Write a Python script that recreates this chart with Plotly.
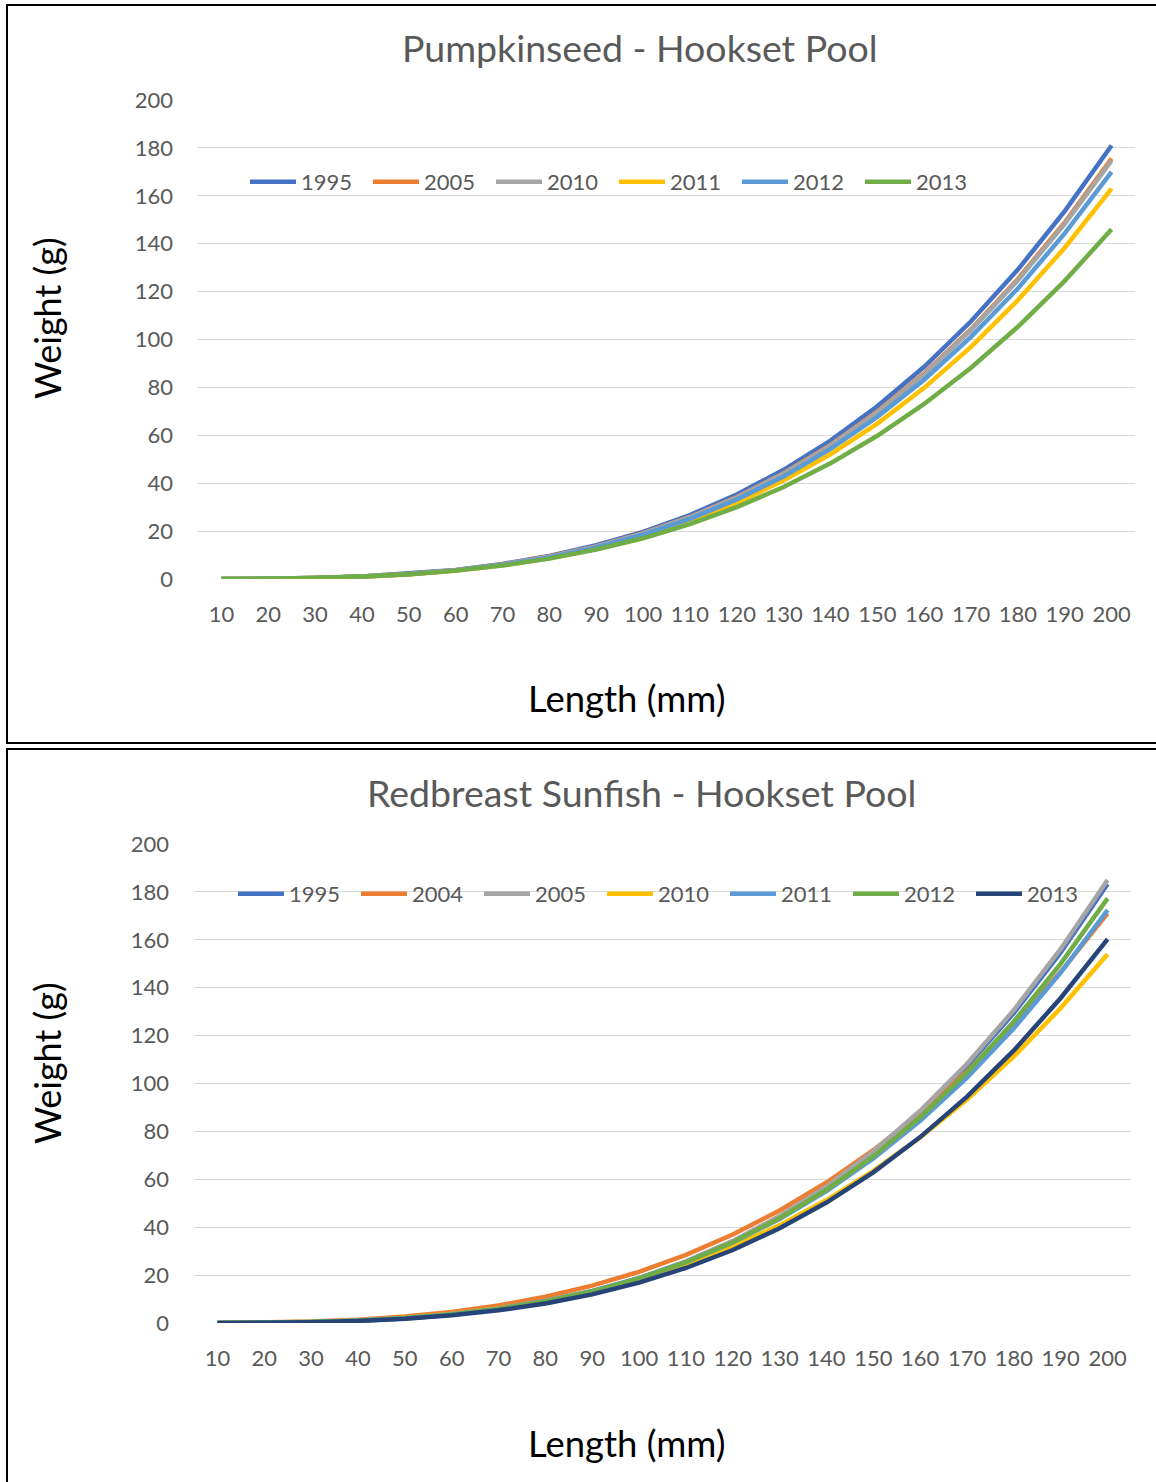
import plotly.graph_objects as go

W, H = 1156, 1482

# Fish length classes (mm)
lengths = [10, 20, 30, 40, 50, 60, 70, 80, 90, 100,
           110, 120, 130, 140, 150, 160, 170, 180, 190, 200]

# Pumpkinseed - predicted weight (g) by year
pk_years = ["1995", "2005", "2010", "2011", "2012", "2013"]
pk_1995 = [0.01, 0.1, 0.4, 1.0, 2.2, 3.8, 6.3, 9.6, 14.1, 19.7, 26.7, 35.3, 45.6, 57.8, 72.1, 88.6, 107.6, 129.2, 153.6, 181.0]
pk_2005 = [0.01, 0.1, 0.4, 1.0, 2.1, 3.7, 6.1, 9.4, 13.6, 19.1, 25.9, 34.2, 44.2, 56.0, 69.9, 85.9, 104.3, 125.3, 148.9, 175.5]
pk_2010 = [0.01, 0.1, 0.4, 1.0, 2.1, 3.7, 6.1, 9.3, 13.6, 19.0, 25.8, 34.1, 44.0, 55.8, 69.6, 85.5, 103.9, 124.7, 148.3, 174.7]
pk_2011 = [0.01, 0.1, 0.4, 0.9, 1.9, 3.4, 5.7, 8.7, 12.7, 17.7, 24.0, 31.8, 41.1, 52.1, 64.9, 79.8, 96.9, 116.4, 138.3, 163.0]
pk_2012 = [0.01, 0.1, 0.4, 1.0, 2.0, 3.6, 5.9, 9.0, 13.2, 18.5, 25.1, 33.2, 42.8, 54.3, 67.7, 83.2, 101.1, 121.3, 144.3, 170.0]
pk_2013 = [0.01, 0.1, 0.4, 1.0, 2.0, 3.5, 5.6, 8.5, 12.3, 17.0, 22.9, 30.0, 38.4, 48.3, 59.8, 73.1, 88.2, 105.3, 124.5, 146.0]

# Redbreast sunfish - predicted weight (g) by year
rb_years = ["1995", "2004", "2005", "2010", "2011", "2012", "2013"]
rb_1995 = [0.01, 0.09, 0.35, 0.91, 1.89, 3.45, 5.74, 8.91, 13.14, 18.60, 25.50, 33.97, 44.23, 56.49, 70.94, 87.78, 107.21, 129.45, 154.76, 183.3]
rb_2004 = [0.02, 0.17, 0.58, 1.37, 2.67, 4.62, 7.33, 10.94, 15.58, 21.38, 28.45, 36.94, 46.96, 58.65, 72.14, 87.55, 105.02, 124.66, 146.61, 171.0]
rb_2005 = [0.01, 0.09, 0.35, 0.91, 1.91, 3.48, 5.79, 8.99, 13.27, 18.78, 25.73, 34.28, 44.64, 57.02, 71.60, 88.60, 108.21, 130.65, 156.20, 185.0]
rb_2010 = [0.02, 0.13, 0.45, 1.08, 2.15, 3.78, 6.07, 9.16, 13.17, 18.20, 24.42, 31.94, 40.86, 51.33, 63.49, 77.46, 93.35, 111.31, 131.50, 154.0]
rb_2011 = [0.01, 0.11, 0.40, 1.00, 2.04, 3.65, 6.00, 9.19, 13.40, 18.76, 25.45, 33.62, 43.44, 55.06, 68.67, 84.42, 102.49, 123.09, 146.32, 172.4]
rb_2012 = [0.01, 0.10, 0.37, 0.95, 1.96, 3.54, 5.85, 9.02, 13.23, 18.63, 25.41, 33.70, 43.72, 55.62, 69.61, 85.87, 104.55, 125.88, 150.08, 177.3]
rb_2013 = [0.01, 0.09, 0.34, 0.86, 1.77, 3.20, 5.29, 8.16, 11.96, 16.85, 22.97, 30.47, 39.53, 50.29, 62.93, 77.63, 94.53, 113.81, 135.69, 160.3]

pk_series = [pk_1995, pk_2005, pk_2010, pk_2011, pk_2012, pk_2013]
rb_series = [rb_1995, rb_2004, rb_2005, rb_2010, rb_2011, rb_2012, rb_2013]

# Office palette
pk_colors = ["#4472C4", "#ED7D31", "#A5A5A5", "#FFC000", "#5B9BD5", "#70AD47"]
rb_colors = ["#4472C4", "#ED7D31", "#A5A5A5", "#FFC000", "#5B9BD5", "#70AD47", "#264478"]

FONT = "Lato"
GREY = "#595959"
GRID = "#D9D9D9"


def px_x(p):
    return p / W


def px_y(p):
    return 1 - p / H


fig = go.Figure()

for name, ys, col in zip(pk_years, pk_series, pk_colors):
    fig.add_trace(go.Scatter(x=lengths, y=ys, name=name, mode="lines",
                             line=dict(color=col, width=4.5),
                             xaxis="x", yaxis="y", legend="legend"))

for name, ys, col in zip(rb_years, rb_series, rb_colors):
    fig.add_trace(go.Scatter(x=lengths, y=ys, name=name, mode="lines",
                             line=dict(color=col, width=4.5),
                             xaxis="x2", yaxis="y2", legend="legend2"))

xcommon = dict(range=[5, 205], tickvals=lengths, ticktext=[str(v) for v in lengths],
               showgrid=False, zeroline=False, showline=False, ticks="",
               tickfont=dict(family=FONT, size=22, color=GREY),
               ticklabelstandoff=20, fixedrange=True)
ycommon = dict(range=[0, 200], dtick=20, showgrid=True, gridcolor=GRID, gridwidth=1.3,
               zeroline=False, showline=False, ticks="",
               tickfont=dict(family=FONT, size=22, color=GREY),
               ticklabelstandoff=24, fixedrange=True)

legcommon = dict(orientation="h", xanchor="left", yanchor="middle",
                 font=dict(family=FONT, size=22, color=GREY),
                 bgcolor="rgba(0,0,0,0)", entrywidth=62, entrywidthmode="pixels",
                 itemwidth=46, tracegroupgap=0, traceorder="normal")

fig.update_layout(
    width=W, height=H,
    margin=dict(l=0, r=0, t=0, b=0, autoexpand=False),
    paper_bgcolor="white", plot_bgcolor="white",
    showlegend=True,
    xaxis=dict(domain=[px_x(198), px_x(1135)], anchor="y", **xcommon),
    yaxis=dict(domain=[px_y(579), px_y(100)], anchor="x", **ycommon),
    xaxis2=dict(domain=[px_x(194), px_x(1131)], anchor="y2", **xcommon),
    yaxis2=dict(domain=[px_y(1323), px_y(844)], anchor="x2", **ycommon),
    legend=dict(x=px_x(245), y=px_y(182), **legcommon),
    legend2=dict(x=px_x(233), y=px_y(894), **legcommon),
)

# Chart frames
fig.add_shape(type="rect", xref="paper", yref="paper",
              x0=px_x(7), x1=1.02, y0=px_y(743), y1=px_y(5),
              line=dict(color="black", width=2), layer="above")
fig.add_shape(type="rect", xref="paper", yref="paper",
              x0=px_x(7), x1=1.02, y0=px_y(1490), y1=px_y(749),
              line=dict(color="black", width=2), layer="above")

# Titles and axis titles
texts = [
    ("Pumpkinseed - Hookset Pool", 640, 48, 0, GREY, 37.5),
    ("Redbreast Sunfish - Hookset Pool", 641, 792, 0, GREY, 37.5),
    ("Length (mm)", 626, 698, 0, "black", 36.5),
    ("Length (mm)", 626, 1443, 0, "black", 36.5),
    ("Weight (g)", 47, 318, -90, "black", 36),
    ("Weight (g)", 47, 1063, -90, "black", 36),
]
for txt, cx, cy, ang, col, sz in texts:
    fig.add_annotation(text=txt, xref="paper", yref="paper",
                       x=px_x(cx), y=px_y(cy), xanchor="center", yanchor="middle",
                       showarrow=False, textangle=ang,
                       font=dict(family=FONT, size=sz, color=col))

fig.write_html("out.html")
